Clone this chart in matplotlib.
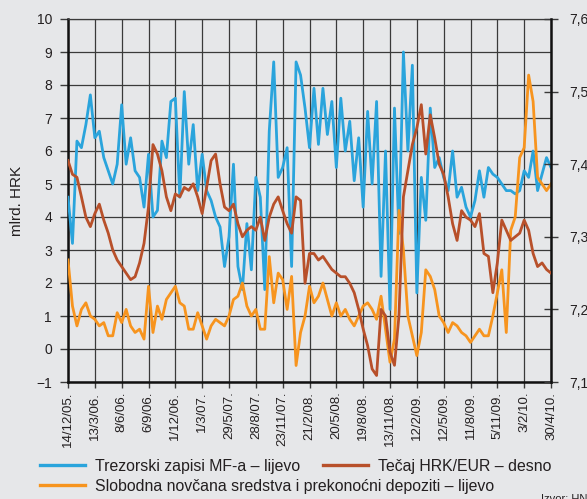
import numpy as np
import matplotlib
matplotlib.use('Agg')
import matplotlib.pyplot as plt
from matplotlib.lines import Line2D

plt.rcParams['font.family'] = ['Liberation Sans', 'DejaVu Sans']

# tick dates (x axis is a business-day index, one tick every ~quarter)
tick_labels = ['14/12/05.', '13/3/06.', '8/6/06.', '6/9/06.', '1/12/06.', '1/3/07.',
               '29/5/07.', '28/8/07.', '23/11/07.', '21/2/08.', '20/5/08.', '19/8/08.',
               '13/11/08.', '12/2/09.', '12/5/09.', '11/8/09.', '5/11/09.', '3/2/10.',
               '30/4/10.']
samples_per_tick = 6

# Trezorski zapisi MF-a, mlrd. HRK (left axis)
treasury = [4.6, 3.2, 6.3, 6.1, 6.8, 7.7, 6.4, 6.6, 5.8, 5.4,
            5.0, 5.6, 7.4, 5.6, 6.4, 5.4, 5.2, 4.3, 5.9, 4.0,
            4.2, 6.3, 5.8, 7.5, 7.6, 4.6, 7.8, 5.6, 6.8, 4.8,
            5.9, 4.8, 4.5, 4.0, 3.7, 2.5, 3.4, 5.6, 2.5, 1.8,
            3.8, 2.4, 5.2, 4.6, 1.8, 6.6, 8.7, 5.2, 5.5, 6.1,
            2.5, 8.7, 8.3, 7.3, 6.1, 7.9, 6.2, 7.9, 6.5, 7.5,
            5.5, 7.6, 6.0, 6.9, 5.1, 6.4, 4.3, 7.2, 5.0, 7.5,
            2.2, 6.0, 1.2, 7.3, 3.5, 9.0, 6.0, 8.6, 1.7, 5.2,
            3.9, 7.3, 5.5, 5.8, 5.2, 4.8, 6.0, 4.6, 4.9, 4.3,
            4.0, 4.5, 5.4, 4.6, 5.5, 5.3, 5.2, 5.0, 4.8, 4.8,
            4.7, 4.8, 5.4, 5.2, 6.0, 4.8, 5.3, 5.8, 5.5]

# Slobodna novcana sredstva i prekonocni depoziti, mlrd. HRK (left axis)
free_funds = [2.7, 1.3, 0.7, 1.2, 1.4, 1.0, 0.9, 0.7, 0.8, 0.4,
              0.4, 1.1, 0.8, 1.2, 0.7, 0.5, 0.6, 0.3, 1.9, 0.5,
              1.3, 0.9, 1.5, 1.7, 1.9, 1.4, 1.3, 0.6, 0.6, 1.1,
              0.7, 0.3, 0.7, 0.9, 0.8, 0.7, 1.0, 1.5, 1.6, 2.0,
              1.3, 1.0, 1.2, 0.6, 0.6, 2.8, 1.4, 2.3, 2.1, 1.2,
              2.2, -0.5, 0.5, 1.0, 1.9, 1.4, 1.6, 2.0, 1.5, 1.0,
              1.4, 1.0, 1.2, 0.9, 0.7, 1.0, 1.3, 1.4, 1.2, 0.9,
              1.6, 0.6, -0.4, 0.3, 4.2, 3.0, 1.0, 0.4, -0.2, 0.5,
              2.4, 2.2, 1.8, 1.0, 0.8, 0.5, 0.8, 0.7, 0.5, 0.4,
              0.2, 0.4, 0.6, 0.4, 0.4, 1.0, 1.7, 2.4, 0.5, 3.6,
              4.0, 5.8, 6.1, 8.3, 7.5, 5.2, 5.0, 4.8, 5.0]

# Tecaj HRK/EUR (right axis)
hrk_eur = [7.405, 7.386, 7.382, 7.355, 7.327, 7.314, 7.332, 7.345, 7.323, 7.305,
           7.282, 7.268, 7.259, 7.250, 7.241, 7.245, 7.264, 7.291, 7.341, 7.427,
           7.414, 7.391, 7.355, 7.336, 7.359, 7.355, 7.368, 7.364, 7.373, 7.355,
           7.332, 7.368, 7.405, 7.414, 7.373, 7.341, 7.336, 7.345, 7.318, 7.300,
           7.309, 7.314, 7.309, 7.327, 7.295, 7.327, 7.345, 7.355, 7.336, 7.318,
           7.305, 7.355, 7.350, 7.236, 7.277, 7.277, 7.268, 7.273, 7.264, 7.255,
           7.250, 7.245, 7.245, 7.236, 7.223, 7.200, 7.173, 7.150, 7.118, 7.109,
           7.200, 7.191, 7.141, 7.123, 7.191, 7.355, 7.391, 7.427, 7.450, 7.482,
           7.414, 7.468, 7.436, 7.400, 7.386, 7.355, 7.318, 7.295, 7.336, 7.327,
           7.323, 7.314, 7.332, 7.277, 7.273, 7.223, 7.264, 7.323, 7.309, 7.295,
           7.300, 7.305, 7.323, 7.309, 7.277, 7.259, 7.264, 7.255, 7.250]

bg = '#e6e7e9'
c_blue = '#2aa4dc'
c_orange = '#f7941e'
c_brown = '#b8502a'
c_grid = '#3a3a3a'
c_text = '#231f20'

fig = plt.figure(figsize=(5.87, 4.99), dpi=100, facecolor=bg)
ax = fig.add_axes([68/587, 1-382/499, (551-68)/587, (382-19)/499])
ax.set_facecolor(bg)

x1 = np.arange(len(treasury)) / samples_per_tick
x2 = np.arange(len(free_funds)) / samples_per_tick
x3 = np.arange(len(hrk_eur)) / samples_per_tick

ax.plot(x1, treasury, color=c_blue, lw=2, zorder=3)
ax.plot(x2, free_funds, color=c_orange, lw=2, zorder=4)

ax.set_xlim(0, len(tick_labels) - 1)
ax.set_ylim(-1, 10)
ax.set_xticks(range(len(tick_labels)))
ax.set_xticklabels(tick_labels, rotation=90, fontsize=9.5, color=c_text)
ax.set_yticks(range(-1, 11))
ax.set_yticklabels(['\u22121'] + [str(v) for v in range(0, 11)], fontsize=10, color=c_text)
ax.grid(True, color=c_grid, lw=0.9, zorder=1)
ax.set_axisbelow(True)
ax.tick_params(axis='y', direction='out', length=6, width=1, color=c_grid, pad=5.5)
ax.tick_params(axis='x', direction='out', length=4, width=1, color=c_grid, pad=3)
ax.set_ylabel('mlrd. HRK', fontsize=11, color=c_text, labelpad=9)

for side in ['left', 'bottom']:
    ax.spines[side].set_linewidth(1.8)
    ax.spines[side].set_color('#111111')
ax.spines['top'].set_linewidth(0.9)
ax.spines['top'].set_color(c_grid)
ax.spines['right'].set_visible(False)

ax2 = ax.twinx()
ax2.plot(x3, hrk_eur, color=c_brown, lw=2, zorder=5)
ax2.set_ylim(7.1, 7.6)
rticks = [7.1, 7.2, 7.3, 7.4, 7.5, 7.6]
ax2.set_yticks(rticks)
ax2.set_yticklabels([f'{v:.1f}'.replace('.', ',') for v in rticks], fontsize=10, color=c_text)
ax2.tick_params(axis='y', direction='inout', length=10, width=1, color=c_grid, pad=8)
ax2.spines['right'].set_linewidth(1.8)
ax2.spines['right'].set_color('#111111')
for side in ['left', 'bottom', 'top']:
    ax2.spines[side].set_visible(False)

# legend: one entry per box so rows/columns sit where the original puts them
leg_kw = dict(frameon=False, fontsize=11.4, handlelength=2.85, handletextpad=0.6,
              borderpad=0, borderaxespad=0, labelcolor=c_text, loc='center left')
entries = [
    (c_blue, 'Trezorski zapisi MF-a \u2013 lijevo', 40, 466),
    (c_brown, 'Te\u010daj HRK/EUR \u2013 desno', 323, 466),
    (c_orange, 'Slobodna nov\u010dana sredstva i prekono\u0107ni depoziti \u2013 lijevo', 40, 486),
]
for color, label, px, py in entries:
    fig.legend([Line2D([], [], color=color, lw=2.4)], [label],
               bbox_to_anchor=(px/587, 1-py/499), **leg_kw)

fig.text(541/587, 1-494/499, 'Izvor: HNB', fontsize=8, color=c_text, va='top')

fig.savefig('out.png', dpi=100, facecolor=bg)
